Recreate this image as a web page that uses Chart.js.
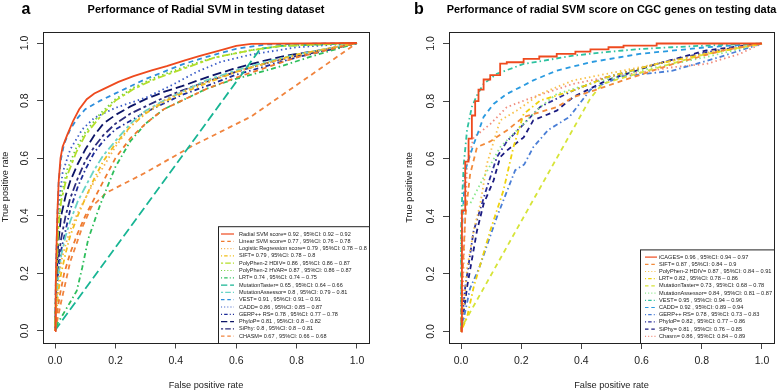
<!DOCTYPE html>
<html><head><meta charset="utf-8">
<script src="https://cdn.jsdelivr.net/npm/chart.js@4"></script>
<style>
html,body{margin:0;padding:0;background:#fff;}
#wrap{position:relative;width:777px;height:391px;overflow:hidden;}
canvas{position:absolute;top:0;}
</style></head><body>
<div id="wrap">
<canvas id="ca" width="388" height="391" style="left:0"></canvas>
<canvas id="cb" width="389" height="391" style="left:388px"></canvas>
</div>
<script>
// ---------- DATA: panel a (FPR, TPR pairs) ----------
const a_radial = [[0,0],[0.002,0.15],[0.005,0.3],[0.008,0.42],[0.012,0.52],[0.018,0.6],[0.025,0.64],[0.04,0.68],[0.06,0.73],[0.08,0.77],[0.105,0.805],[0.13,0.825],[0.16,0.84],[0.21,0.865],[0.26,0.885],[0.32,0.905],[0.37,0.92],[0.43,0.94],[0.48,0.955],[0.55,0.975],[0.6,0.99],[0.65,0.997],[1,1]];
const a_linear = [[0,0],[0.005,0.05],[0.015,0.12],[0.03,0.2],[0.05,0.27],[0.075,0.34],[0.1,0.4],[0.12,0.44],[0.15,0.5],[0.2,0.6],[0.25,0.67],[0.3,0.72],[0.36,0.77],[0.42,0.8],[0.5,0.84],[0.6,0.88],[0.7,0.915],[0.8,0.95],[0.9,0.975],[1,1]];
const a_logistic = [[0,0],[0.004,0.08],[0.01,0.16],[0.02,0.24],[0.035,0.3],[0.05,0.35],[0.075,0.41],[0.1,0.46],[0.13,0.52],[0.16,0.57],[0.2,0.64],[0.25,0.71],[0.3,0.76],[0.36,0.8],[0.42,0.83],[0.5,0.865],[0.6,0.9],[0.7,0.93],[0.8,0.955],[0.9,0.98],[1,1]];
const a_sift = [[0,0],[0.004,0.06],[0.01,0.13],[0.02,0.2],[0.035,0.27],[0.05,0.33],[0.075,0.4],[0.1,0.46],[0.13,0.53],[0.16,0.59],[0.2,0.65],[0.25,0.71],[0.3,0.755],[0.36,0.795],[0.42,0.825],[0.5,0.86],[0.6,0.9],[0.7,0.93],[0.8,0.96],[0.9,0.98],[1,1]];
const a_pp2hdiv = [[0,0],[0.004,0.18],[0.01,0.35],[0.02,0.45],[0.04,0.54],[0.07,0.62],[0.1,0.68],[0.15,0.745],[0.2,0.8],[0.26,0.84],[0.32,0.87],[0.37,0.89],[0.45,0.92],[0.53,0.95],[0.65,0.975],[0.75,0.99],[1,1]];
const a_pp2hvar = [[0,0],[0.004,0.2],[0.01,0.37],[0.02,0.47],[0.04,0.56],[0.07,0.635],[0.1,0.69],[0.15,0.755],[0.2,0.805],[0.26,0.845],[0.32,0.875],[0.37,0.895],[0.45,0.925],[0.53,0.95],[0.65,0.975],[0.75,0.99],[1,1]];
const a_lrt = [[0,0],[0.01,0.03],[0.022,0.05],[0.05,0.1],[0.072,0.14],[0.09,0.22],[0.11,0.32],[0.15,0.44],[0.2,0.57],[0.25,0.66],[0.3,0.72],[0.36,0.77],[0.42,0.8],[0.5,0.84],[0.58,0.87],[0.65,0.89],[0.75,0.92],[0.87,0.96],[1,1]];
const a_mtaster = [[0,0],[0.005,0.01],[0.68,0.98],[0.75,0.99],[1,1]];
const a_massessor = [[0,0],[0.004,0.1],[0.01,0.18],[0.02,0.26],[0.035,0.33],[0.05,0.38],[0.075,0.45],[0.1,0.5],[0.13,0.56],[0.16,0.61],[0.2,0.66],[0.25,0.72],[0.3,0.765],[0.36,0.8],[0.42,0.83],[0.5,0.87],[0.6,0.905],[0.7,0.935],[0.8,0.96],[0.9,0.98],[1,1]];
const a_vest = [[0,0],[0.003,0.2],[0.007,0.38],[0.012,0.52],[0.02,0.6],[0.03,0.65],[0.05,0.7],[0.075,0.74],[0.1,0.77],[0.15,0.8],[0.2,0.825],[0.25,0.85],[0.3,0.875],[0.36,0.9],[0.42,0.925],[0.48,0.945],[0.53,0.96],[0.6,0.98],[0.7,0.995],[1,1]];
const a_cadd = [[0,0],[0.004,0.25],[0.01,0.42],[0.025,0.55],[0.05,0.63],[0.09,0.7],[0.13,0.74],[0.2,0.775],[0.3,0.81],[0.38,0.85],[0.47,0.9],[0.55,0.935],[0.65,0.96],[0.8,0.985],[1,1]];
const a_gerp = [[0,0],[0.004,0.1],[0.01,0.2],[0.02,0.28],[0.035,0.35],[0.05,0.42],[0.075,0.5],[0.1,0.56],[0.13,0.62],[0.16,0.66],[0.2,0.7],[0.25,0.73],[0.3,0.76],[0.36,0.79],[0.42,0.82],[0.5,0.85],[0.6,0.89],[0.7,0.92],[0.8,0.95],[0.9,0.975],[1,1]];
const a_phylop = [[0,0],[0.004,0.15],[0.01,0.3],[0.02,0.4],[0.035,0.47],[0.05,0.52],[0.075,0.58],[0.1,0.63],[0.13,0.68],[0.16,0.72],[0.2,0.75],[0.25,0.78],[0.3,0.805],[0.36,0.83],[0.42,0.85],[0.5,0.88],[0.59,0.91],[0.68,0.935],[0.76,0.955],[0.88,0.975],[1,1]];
const a_siphy = [[0,0],[0.004,0.12],[0.01,0.24],[0.02,0.32],[0.035,0.4],[0.05,0.46],[0.075,0.53],[0.1,0.59],[0.13,0.64],[0.16,0.68],[0.2,0.72],[0.25,0.755],[0.3,0.78],[0.36,0.81],[0.42,0.835],[0.5,0.865],[0.6,0.9],[0.7,0.93],[0.8,0.955],[0.9,0.975],[1,1]];
const a_chasm = [[0,0],[0.02,0.1],[0.05,0.24],[0.09,0.36],[0.12,0.43],[0.17,0.48],[0.3,0.55],[0.45,0.64],[0.65,0.745],[0.87,0.905],[1,1]];

const a_labels = ["Radial SVM score= 0.92 , 95%CI: 0.92 – 0.92","Linear SVM score= 0.77 , 95%CI: 0.76 – 0.78","Logistic Regression score= 0.79 , 95%CI: 0.78 – 0.8","SIFT= 0.79 , 95%CI: 0.78 – 0.8","PolyPhen-2 HDIV= 0.86 , 95%CI: 0.86 – 0.87","PolyPhen-2 HVAR= 0.87 , 95%CI: 0.86 – 0.87","LRT= 0.74 , 95%CI: 0.74 – 0.75","MutationTaster= 0.65 , 95%CI: 0.64 – 0.66","MutationAssessor= 0.8 , 95%CI: 0.79 – 0.81","VEST= 0.91 , 95%CI: 0.91 – 0.91","CADD= 0.86 , 95%CI: 0.85 – 0.87","GERP++ RS= 0.78 , 95%CI: 0.77 – 0.78","PhyloP= 0.81 , 95%CI: 0.8 – 0.82","SiPhy: 0.8 , 95%CI: 0.8 – 0.81","CHASM= 0.67 , 95%CI: 0.66 – 0.68"];
const a_series = [a_radial,a_linear,a_logistic,a_sift,a_pp2hdiv,a_pp2hvar,a_lrt,a_mtaster,a_massessor,a_vest,a_cadd,a_gerp,a_phylop,a_siphy,a_chasm];
const a_colors = ['#EE4A1E','#EF7A2E','#F6B24C','#F1BE18','#B4DE2A','#72D23C','#2EBE5C','#18B594','#6AD4C6','#2E8EDC','#3A5CC8','#1E2C98','#0C1466','#2C2C7C','#F0843E'];
const a_dash = ['solid','dashed','dotted','dotdash','twodash','dotted','dotdash','longdash','twodash','dashed','dotted','dotdash','longdash','twodash','dashed'];

// ---------- DATA: panel b ----------
const b_icages = [[0,0],[0.003,0.15],[0.003,0.42],[0.014,0.59],[0.025,0.67],[0.036,0.75],[0.047,0.8],[0.058,0.84],[0.075,0.875],[0.097,0.89],[0.13,0.93],[0.152,0.935],[0.208,0.947],[0.26,0.955],[0.318,0.964],[0.38,0.972],[0.43,0.98],[0.49,0.987],[0.54,0.993],[0.65,1],[1,1]];
const b_sift = [[0,0],[0.003,0.15],[0.014,0.395],[0.03,0.545],[0.053,0.64],[0.097,0.66],[0.152,0.698],[0.208,0.745],[0.318,0.779],[0.373,0.814],[0.45,0.84],[0.539,0.872],[0.62,0.9],[0.705,0.929],[0.87,0.976],[1,1]];
const b_pp2hdiv = [[0,0],[0.01,0.1],[0.02,0.22],[0.042,0.35],[0.064,0.443],[0.086,0.582],[0.13,0.733],[0.185,0.767],[0.263,0.825],[0.373,0.872],[0.539,0.906],[0.705,0.941],[0.85,0.975],[1,1]];
const b_lrt = [[0,0],[0.02,0.05],[0.042,0.154],[0.097,0.35],[0.141,0.49],[0.174,0.64],[0.208,0.755],[0.263,0.802],[0.373,0.837],[0.484,0.883],[0.65,0.929],[0.815,0.964],[1,1]];
const b_mtaster = [[0,0],[0.005,0.02],[0.43,0.81],[0.47,0.86],[0.6,0.9],[0.8,0.96],[1,1]];
const b_massessor = [[0,0],[0,0.35],[0.009,0.443],[0.03,0.443],[0.075,0.535],[0.13,0.64],[0.185,0.698],[0.263,0.779],[0.318,0.825],[0.43,0.86],[0.594,0.906],[0.815,0.953],[1,1]];
const b_vest = [[0,0],[0,0.35],[0.003,0.45],[0.009,0.58],[0.02,0.7],[0.036,0.78],[0.053,0.82],[0.075,0.86],[0.119,0.895],[0.208,0.929],[0.3,0.945],[0.373,0.958],[0.48,0.97],[0.594,0.981],[0.7,0.987],[0.815,0.993],[1,1]];
const b_cadd = [[0,0],[0.003,0.35],[0.014,0.56],[0.042,0.65],[0.06,0.7],[0.075,0.745],[0.108,0.79],[0.152,0.825],[0.2,0.85],[0.24,0.872],[0.318,0.906],[0.43,0.935],[0.594,0.964],[0.815,0.987],[1,1]];
const b_gerp = [[0,0],[0.01,0.05],[0.03,0.15],[0.06,0.22],[0.12,0.4],[0.18,0.56],[0.21,0.58],[0.24,0.64],[0.29,0.7],[0.36,0.745],[0.43,0.84],[0.53,0.885],[0.7,0.905],[0.85,0.95],[1,1]];
const b_phylop = [[0,0],[0.014,0.154],[0.042,0.35],[0.086,0.5],[0.119,0.605],[0.152,0.66],[0.208,0.72],[0.263,0.78],[0.373,0.837],[0.484,0.883],[0.65,0.929],[0.815,0.97],[1,1]];
const b_siphy = [[0,0],[0.02,0.154],[0.053,0.35],[0.075,0.443],[0.108,0.524],[0.13,0.605],[0.152,0.628],[0.208,0.674],[0.24,0.733],[0.318,0.767],[0.373,0.814],[0.484,0.872],[0.65,0.929],[0.815,0.976],[1,1]];
const b_chasm = [[0,0],[0.005,0.1],[0.009,0.257],[0.02,0.58],[0.042,0.674],[0.097,0.72],[0.152,0.779],[0.24,0.814],[0.373,0.86],[0.484,0.883],[0.6,0.9],[0.705,0.918],[0.815,0.929],[0.926,0.964],[1,1]];

const b_labels = ["iCAGES= 0.96 , 95%CI: 0.94 – 0.97","SIFT= 0.87 , 95%CI: 0.84 – 0.9","PolyPhen-2 HDIV= 0.87 , 95%CI: 0.84 – 0.91","LRT= 0.82 , 95%CI: 0.78 – 0.86","MutationTaster= 0.73 , 95%CI: 0.68 – 0.78","MutationAssessor= 0.84 , 95%CI: 0.81 – 0.87","VEST= 0.95 , 95%CI: 0.94 – 0.96","CADD= 0.92 , 95%CI: 0.89 – 0.94","GERP++ RS= 0.78 , 95%CI: 0.73 – 0.83","PhyloP= 0.82 , 95%CI: 0.77 – 0.86","SiPhy= 0.81 , 95%CI: 0.76 – 0.85","Chasm= 0.86 , 95%CI: 0.84 – 0.89"];
const b_series = [b_icages,b_sift,b_pp2hdiv,b_lrt,b_mtaster,b_massessor,b_vest,b_cadd,b_gerp,b_phylop,b_siphy,b_chasm];
const b_colors = ['#EE4A1E','#F28A3A','#F8C24C','#EFD20C','#D6E438','#8CE88C','#2EC2A0','#2A9AE0','#4A7ED6','#2C2F9A','#1A1A80','#F08C7C'];
const b_dash = ['solid','dashed','dotted','dotdash','dashed','dotted','dotdash','dashed','dotdash','dotdash','dashed','dotted'];
const b_stepped = ['before',false,false,false,false,false,false,false,false,false,false,false];

const TICKS = [0,0.2,0.4,0.6,0.8,1.0];

// ---------- rendering ----------
const FONT = '"Liberation Sans", Arial, Helvetica, sans-serif';
const DASHES = {solid:[], dashed:[5,4], dotted:[1.5,3], dotdash:[1.5,3,5,3], longdash:[9,4], twodash:[3,3,8,3]};

function fitSize(ctx, text, weight, target){
  ctx.font = weight + ' 10px ' + FONT;
  return 10 * target / ctx.measureText(text).width;
}

function makePanel(id, cfg){
  const canvas = document.getElementById(id);
  const datasets = cfg.series.map((s,i)=>({
    label: cfg.labels[i],
    data: s.map(p=>({x:p[0], y:p[1]})),
    showLine:true, fill:false, tension:0,
    stepped: cfg.stepped ? cfg.stepped[i] : false,
    borderColor: cfg.colors[i], borderWidth: 1.8,
    borderDash: DASHES[cfg.dash[i]],
    pointRadius:0, pointHoverRadius:0
  }));
  const overlay = {
    id:'overlay',
    afterDraw(chart){
      const ctx = chart.ctx, ca = chart.chartArea;
      ctx.save();
      ctx.strokeStyle = '#222'; ctx.lineWidth = 1; ctx.setLineDash([]);
      ctx.strokeRect(Math.round(ca.left)+0.5, Math.round(ca.top)+0.5, Math.round(ca.right-ca.left), Math.round(ca.bottom-ca.top));
      const ys = chart.scales.y;
      ctx.fillStyle = '#222';
      ctx.font = '10.5px ' + FONT;
      ctx.textAlign = 'center'; ctx.textBaseline = 'middle';
      TICKS.forEach(v=>{
        const py = ys.getPixelForValue(v);
        ctx.save(); ctx.translate(ca.left - 18, py); ctx.rotate(-Math.PI/2);
        ctx.fillText(v.toFixed(1), 0, 0); ctx.restore();
      });
      ctx.font = 'bold 16px ' + FONT; ctx.textAlign='center'; ctx.fillStyle='#000';
      ctx.fillText(cfg.letter, cfg.letterX, 10);
      const ts = fitSize(ctx, cfg.title, 'bold', cfg.titleW);
      ctx.font = 'bold ' + ts.toFixed(2) + 'px ' + FONT;
      ctx.fillText(cfg.title, (ca.left+ca.right)/2, 9.5);
      const n = cfg.labels.length, rh = cfg.rowH;
      ctx.font='10px '+FONT;
      const longest = cfg.labels.reduce((a,b)=> ctx.measureText(b).width>ctx.measureText(a).width?b:a);
      const fs = fitSize(ctx, longest, 'normal', cfg.textW);
      const bw = cfg.legendW, bh = (n+1)*rh;
      const bx = Math.round(ca.right) - bw, by = Math.round(ca.bottom) - bh;
      ctx.fillStyle = '#fff'; ctx.fillRect(bx+0.5, by+0.5, bw, bh);
      ctx.strokeStyle = '#222'; ctx.lineWidth=1; ctx.strokeRect(bx+0.5, by+0.5, bw, bh);
      ctx.font = fs.toFixed(2) + 'px ' + FONT; ctx.textAlign='left'; ctx.textBaseline='middle';
      cfg.labels.forEach((t,i)=>{
        const y = by + rh*(i+1) + 0.5;
        ctx.strokeStyle = cfg.colors[i]; ctx.lineWidth = 1.2;
        ctx.setLineDash(DASHES[cfg.dash[i]].map(d=>d*0.7));
        ctx.beginPath(); ctx.moveTo(bx+cfg.sampleX0, y); ctx.lineTo(bx+cfg.sampleX1, y); ctx.stroke();
        ctx.setLineDash([]);
        ctx.fillStyle = '#222';
        ctx.fillText(t, bx + cfg.textX, y);
      });
      ctx.restore();
    }
  };
  return new Chart(canvas, {
    type:'scatter',
    data:{datasets},
    options:{
      responsive:false, animation:false, devicePixelRatio:1,
      layout:{padding:{left:0, right:cfg.padRight, top:cfg.padTop, bottom:0}},
      plugins:{legend:{display:false}, tooltip:{enabled:false}, title:{display:false}},
      scales:{
        x:{type:'linear', min:-0.04, max:1.04,
          afterBuildTicks:s=>{ s.ticks = TICKS.map(v=>({value:v})); },
          ticks:{font:{family:FONT,size:10.5}, color:'#222', padding:6, maxRotation:0, callback:v=>Number(v).toFixed(1)},
          grid:{display:true, drawOnChartArea:false, drawTicks:true, tickLength:6, color:'#444', lineWidth:1},
          border:{display:false},
          title:{display:true, text:'False positive rate', font:{family:FONT,size:9.2}, color:'#222', padding:{top:0,bottom:0}},
          afterFit:s=>{ s.height = cfg.xH; }
        },
        y:{type:'linear', min:-0.04, max:1.04,
          afterBuildTicks:s=>{ s.ticks = TICKS.map(v=>({value:v})); },
          ticks:{display:false},
          grid:{display:true, drawOnChartArea:false, drawTicks:true, tickLength:6, color:'#444', lineWidth:1},
          border:{display:false},
          title:{display:true, text:'True positive rate', font:{family:FONT,size:9.2}, color:'#222', padding:{top:cfg.yTitlePad,bottom:0}},
          afterFit:s=>{ s.width = cfg.yW; }
        }
      }
    },
    plugins:[overlay]
  });
}

makePanel('ca', {
  series:a_series, labels:a_labels, colors:a_colors, dash:a_dash,
  letter:'a', letterX:26, title:'Performance of Radial SVM in testing dataset', titleW:237,
  padRight:19, padTop:31.5, xH:48.5, yW:43, yTitlePad:0,
  rowH:7.3, legendW:151, textW:128, sampleX0:3, sampleX1:16, textX:21
});
makePanel('cb', {
  series:b_series, labels:b_labels, colors:b_colors, dash:b_dash, stepped:b_stepped,
  letter:'b', letterX:31, title:'Performance of radial SVM score on CGC genes on testing data', titleW:330,
  padRight:3, padTop:32, xH:48, yW:61, yTitlePad:16,
  rowH:7.2, legendW:134, textW:113, sampleX0:5, sampleX1:17, textX:19
});
</script>
</body></html>
